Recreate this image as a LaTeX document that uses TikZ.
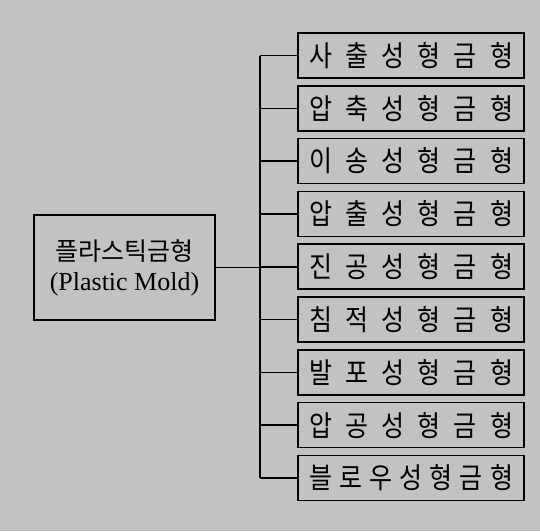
\documentclass[tikz,border=0pt]{standalone}
\usepackage{fontspec}
\usepackage{graphicx}
\setmainfont{Liberation Serif}
\newfontfamily\kr{Noto Sans CJK KR}
\definecolor{bg}{gray}{0.76}
\begin{document}
\begin{tikzpicture}[x=1pt,y=-1pt,
  kindbox/.style={draw, line width=1.6pt, minimum width=226pt, minimum height=45pt, inner sep=0pt, font=\kr\fontsize{25}{30}\selectfont},
  mainbox/.style={draw, line width=1.6pt, minimum width=181pt, minimum height=105pt, inner sep=0pt, align=center},
  link/.style={line width=1.6pt}]
\fill[bg] (0,0) rectangle (540,531);
\useasboundingbox (0,0) rectangle (540,531);
\foreach \i/\t in {0/사 출 성 형 금 형,1/압 축 성 형 금 형,2/이 송 성 형 금 형,3/압 출 성 형 금 형,4/진 공 성 형 금 형,5/침 적 성 형 금 형,6/발 포 성 형 금 형,7/압 공 성 형 금 형,8/블 로 우 성 형 금 형}{
  \node[kindbox] (k\i) at (411,55.5+52.8*\i) {\scalebox{1}[1.15]{\makebox[204pt][s]{\t}}};
  \coordinate (j\i) at (260,55.5+52.8*\i);
  \draw[link] (j\i) -- (k\i.west);
}
\node[mainbox] (main) at (124.5,267.5) {{\kr\fontsize{25}{28}\selectfont 플라스틱금형}\\[9pt]{\fontsize{26}{28}\selectfont (Plastic Mold)}};
\draw[link] (j0) -- (j8);
\draw[link] (main.east) -- (main.east -| j0);
\end{tikzpicture}
\end{document}
